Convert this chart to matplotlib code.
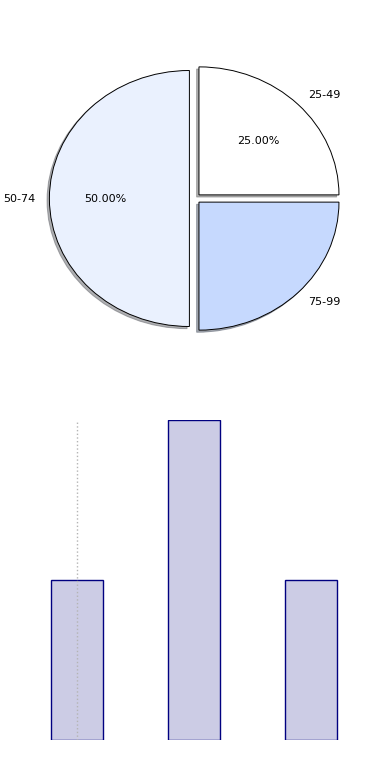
import matplotlib
matplotlib.use('Agg')
import matplotlib.pyplot as plt

age_groups = ['25-49', '50-74', '75-99']
shares = [25, 50, 25]
pie_colors = ['#ffffff', '#eaf1fe', '#c6d9fe']
bar_values = [1, 2, 1]

fig = plt.figure(figsize=(3.9, 7.8), dpi=100)

# pie on top, stretched a bit wider than tall like the original
W, H = 390.0, 780.0
cx, cy = 195.0, 198.5
rx, ry = 140.0, 128.0
lim = 1.35
ax1 = fig.add_axes([(cx - lim * rx) / W, (H - cy - lim * ry) / H,
                    2 * lim * rx / W, 2 * lim * ry / H])
wedges, texts, autotexts = ax1.pie(
    shares, labels=age_groups, colors=pie_colors, autopct='%.2f%%',
    explode=[0.04, 0.04, 0.04],
    shadow={'ox': -0.012, 'oy': -0.012, 'shade': 0.6}, startangle=0,
    wedgeprops={'edgecolor': 'black', 'linewidth': 0.7},
    textprops={'fontsize': 8})
autotexts[2].set_visible(False)
ax1.set_aspect('auto')
ax1.set_xlim(-lim, lim)
ax1.set_ylim(-lim, lim)
ax1.axis('off')

# bar chart below
bx0, bx1 = 77.0 - 117.0 * 0.5, 311.0 + 117.0 * 0.5
ax2 = fig.add_axes([bx0 / W, (H - 740) / H, (bx1 - bx0) / W, 320 / H])
x = range(len(bar_values))
ax2.bar(x, bar_values, width=0.45, color='navy', alpha=0.2, zorder=1)
ax2.bar(x, bar_values, width=0.45, fill=False, edgecolor='navy',
        linewidth=1, zorder=2)
ax2.axvline(0, color='#b4b4b4', linestyle=':', linewidth=1, zorder=3)
ax2.set_xlim(-0.5, 2.5)
ax2.set_ylim(0, 2)
ax2.axis('off')

plt.savefig('out.png', dpi=100)
